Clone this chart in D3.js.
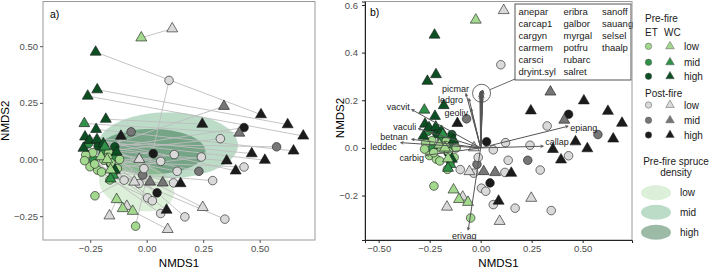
<!DOCTYPE html>
<html><head><meta charset="utf-8">
<script src="https://cdn.jsdelivr.net/npm/d3@7"></script>
<style>body{margin:0;background:#fff}svg{display:block;font-family:"Liberation Sans",Arial,Helvetica,sans-serif}</style>
</head><body><svg id="c" width="712" height="269"></svg>
<script>
// ---------------- data ----------------
const siteType = [
 "ET","ET","ET", "ET","ET","ET","ET",
 "ET","ET","ET","ET","ET","ET","ET","ET","ET","ET","ET","ET","ET","ET","ET","ET","ET",
 "WC","WC","WC","WC","WC","WC","WC","WC","WC","WC","WC","WC",
 "WC","WC","WC","WC",
 "WC","WC","WC","WC","WC","WC","WC"];
const siteDensity = [
 "high","high","high", "mid","mid","mid","mid",
 "low","low","low","low","low","low","low","low","low","low","low","low","low","low","low","low","low",
 "high","high","high","high","high","high","high","high","high","high","high","high",
 "mid","mid","mid","mid",
 "low","low","low","low","low","low","low"];
const preNMDS1 = [
 -0.141,-0.215,-0.160,
 -0.258,-0.190,-0.235,-0.150,
 -0.049,-0.229,-0.239,-0.251,-0.217,-0.168,-0.172,-0.190,-0.158,-0.130,-0.148,-0.163,-0.270,-0.200,-0.120,-0.230,-0.275,
 -0.226,-0.219,-0.261,-0.181,-0.224,-0.273,-0.253,-0.220,-0.280,-0.192,-0.133,-0.141,
 -0.276,-0.185,-0.148,-0.160,
 -0.024,-0.133,-0.106,-0.062,-0.202,-0.175,-0.160];
const preNMDS2 = [
 0.056,0.060,-0.020,
 0.070,0.035,0.000,0.010,
 -0.294,-0.160,0.030,-0.032,-0.047,0.030,0.010,-0.003,-0.016,-0.040,-0.058,-0.090,0.020,-0.055,0.000,-0.020,-0.005,
 0.474,0.308,0.280,0.178,0.133,0.100,0.085,0.088,0.050,0.070,0.033,-0.047,
 0.159,0.056,-0.069,-0.085,
 0.537,-0.176,-0.216,-0.228,0.013,0.000,-0.045];
const postNMDS1 = [
 0.431,0.029,0.046,
 0.575,0.231,-0.069,-0.018,
 0.099,-0.100,0.326,0.122,0.242,0.062,0.135,-0.012,-0.034,0.119,0.292,0.004,0.025,0.062,0.169,0.346,0.431,
 0.506,0.624,0.693,0.246,0.650,0.465,0.523,0.394,0.354,0.150,-0.114,0.088,
 0.410,0.342,0.015,0.071,
 0.113,-0.165,-0.088,0.093,0.248,-0.033,-0.055];
const postNMDS2 = [
 0.141,0.026,-0.147,
 0.056,-0.052,0.122,-0.069,
 0.349,-0.091,0.092,0.022,0.011,-0.008,-0.052,-0.040,-0.106,-0.103,-0.093,-0.169,-0.182,-0.238,-0.253,-0.263,-0.033,
 0.198,0.154,0.104,0.156,0.038,0.026,-0.003,-0.050,-0.006,-0.106,0.103,-0.223,
 0.117,0.235,-0.099,-0.103,
 0.577,-0.248,-0.206,-0.308,-0.211,0.001,-0.099];

// spruce density ellipses (panel a)
const ellipseDensity = ["mid","high","low"];
const ellipseNMDS1 = [0.094, 0.020, -0.045];
const ellipseNMDS2 = [0.063, 0.035, -0.118];
const ellipseAxis1 = [0.31, 0.24, 0.17];
const ellipseAxis2 = [0.145, 0.10, 0.105];
const ellipseAngle = [0, 0, -15];

// species vectors (panel b)
const speciesCode = ["picmar","ledgro","geoliv","vacvit","vaculi","betnan","leddec","carbig","epiang","callap","erivag",
 "anepar","carcap1","cargyn","carmem","carsci","dryint.syl","eribra","galbor","myrgal","potfru","rubarc","salret","sanoff","sauang","selsel","thaalp"];
const speciesNMDS1 = [-0.072,-0.057,-0.047,-0.338,-0.306,-0.338,-0.392,-0.268,0.429,0.307,-0.061,
 -0.004,-0.001,0.002,0.005,0.008,0.011,0.000,0.003,0.006,0.009,0.012,-0.002,0.004,0.007,0.010,0.001];
const speciesNMDS2 = [0.228,0.207,0.165,0.161,0.081,0.036,0.022,-0.031,0.091,0.007,-0.345,
 0.225,0.235,0.215,0.240,0.230,0.220,0.238,0.228,0.212,0.242,0.236,0.218,0.233,0.226,0.241,0.231];
const boxedSpecies = ["anepar","carcap1","cargyn","carmem","carsci","dryint.syl","eribra","galbor","myrgal","potfru","rubarc","salret","sanoff","sauang","selsel","thaalp"];

const xTicksA = [-0.25, 0, 0.25, 0.5];
const yTicksA = [-0.25, 0, 0.25, 0.5];
const xTicksB = [-0.5, -0.25, 0, 0.25, 0.5];
const yTicksB = [-0.2, 0, 0.2, 0.4, 0.6];
const densityLevels = ["low","mid","high"];

// ---------------- styles ----------------
const preFill = {low:"#a3d98f", mid:"#2e9147", high:"#0c4f23"};
const postFill = {low:"#d9d9d9", mid:"#767676", high:"#1b1b1b"};
const ellFill = {low:"#a8d7a0", mid:"#58a876", high:"#0a5222"};
const ellOpacity = 0.4;

const svg = d3.select("#c");
const sites = preNMDS1.map((d,i)=>({type:siteType[i], dens:siteDensity[i],
  px:preNMDS1[i], py:preNMDS2[i], qx:postNMDS1[i], qy:postNMDS2[i]}));

function triPath(cx, cy, a){
  const h = a*Math.sqrt(3)/2;
  return `M${cx},${cy-2*h/3}L${cx+a/2},${cy+h/3}L${cx-a/2},${cy+h/3}Z`;
}
function drawPoint(g, x, y, type, fill, r){
  if(type==="ET"){
    g.append("circle").attr("cx",x).attr("cy",y).attr("r",r).attr("fill",fill)
     .attr("stroke","#1a1a1a").attr("stroke-width",0.6);
  } else {
    g.append("path").attr("d",triPath(x,y,r*2.55)).attr("fill",fill)
     .attr("stroke","#1a1a1a").attr("stroke-width",0.6);
  }
}
function styleAxis(g, col){
  g.selectAll("text").attr("fill","#4d4d4d").style("font-size","9.5px").style("font-family","Liberation Sans, Arial, sans-serif");
  g.selectAll("line").attr("stroke",col);
}

// ---------------- panel a ----------------
const A = {l:43, r:315, t:1.5, b:240};
const xA = d3.scaleLinear().domain([-0.459,0.745]).range([A.l,A.r]);
const yA = d3.scaleLinear().domain([-0.355,0.697]).range([A.b,A.t]);
const gA = svg.append("g");
gA.append("clipPath").attr("id","clipA").append("rect").attr("x",A.l).attr("y",A.t).attr("width",A.r-A.l).attr("height",A.b-A.t);
const plotA = gA.append("g").attr("clip-path","url(#clipA)");

ellipseDensity.forEach((d,i)=>{
  const pts = d3.range(0,361,4).map(deg=>{
    const t = deg*Math.PI/180, ang = ellipseAngle[i]*Math.PI/180;
    const ex = ellipseAxis1[i]*Math.cos(t), ey = ellipseAxis2[i]*Math.sin(t);
    return [xA(ellipseNMDS1[i] + ex*Math.cos(ang) - ey*Math.sin(ang)),
            yA(ellipseNMDS2[i] + ex*Math.sin(ang) + ey*Math.cos(ang))];
  });
  plotA.append("path").attr("d", d3.line().curve(d3.curveLinearClosed)(pts))
    .attr("fill", ellFill[d]).attr("fill-opacity", ellOpacity);
});
sites.forEach(s=>{
  plotA.append("line").attr("x1",xA(s.px)).attr("y1",yA(s.py)).attr("x2",xA(s.qx)).attr("y2",yA(s.qy))
    .attr("stroke","#bdbdbd").attr("stroke-width",0.9);
});
sites.forEach(s=>drawPoint(plotA, xA(s.qx), yA(s.qy), s.type, postFill[s.dens], 4.3));
sites.forEach(s=>drawPoint(plotA, xA(s.px), yA(s.py), s.type, preFill[s.dens], 4.3));

gA.append("rect").attr("x",A.l).attr("y",A.t).attr("width",A.r-A.l).attr("height",A.b-A.t)
  .attr("fill","none").attr("stroke","#9a9a9a").attr("stroke-width",1);
const axA = gA.append("g").attr("transform",`translate(0,${A.b})`)
  .call(d3.axisBottom(xA).tickValues(xTicksA).tickFormat(d3.format(".2f")).tickSize(3).tickPadding(2));
axA.select(".domain").remove(); styleAxis(axA,"#555");
const ayA = gA.append("g").attr("transform",`translate(${A.l},0)`)
  .call(d3.axisLeft(yA).tickValues(yTicksA).tickFormat(d3.format(".2f")).tickSize(3).tickPadding(2));
ayA.select(".domain").remove(); styleAxis(ayA,"#555");
gA.append("text").attr("x",(A.l+A.r)/2).attr("y",267).attr("text-anchor","middle").style("font-size","11.5px").text("NMDS1");
gA.append("text").attr("transform",`translate(9,${(A.t+A.b)/2}) rotate(-90)`).attr("text-anchor","middle").style("font-size","11.5px").text("NMDS2");
gA.append("text").attr("x",50).attr("y",18).style("font-size","10.5px").text("a)");

// ---------------- panel b ----------------
const B = {l:365, r:632, t:1.5, b:240};
const xB = d3.scaleLinear().domain([-0.567,0.742]).range([B.l,B.r]);
const yB = d3.scaleLinear().domain([-0.3866,0.6145]).range([B.b,B.t]);
const gB = svg.append("g");
gB.append("clipPath").attr("id","clipB").append("rect").attr("x",B.l).attr("y",B.t).attr("width",B.r-B.l).attr("height",B.b-B.t);
const plotB = gB.append("g").attr("clip-path","url(#clipB)");
sites.forEach(s=>drawPoint(plotB, xB(s.qx), yB(s.qy), s.type, postFill[s.dens], 4.3));
sites.forEach(s=>drawPoint(plotB, xB(s.px), yB(s.py), s.type, preFill[s.dens], 4.3));

const ox = xB(0), oy = yB(0);
const arrowCol = "#555";
speciesCode.forEach((sp,i)=>{
  const tx = xB(speciesNMDS1[i]), ty = yB(speciesNMDS2[i]);
  plotB.append("line").attr("x1",ox).attr("y1",oy).attr("x2",tx).attr("y2",ty)
    .attr("stroke",arrowCol).attr("stroke-width",boxedSpecies.includes(sp)?0.8:1);
  const ang = Math.atan2(ty-oy, tx-ox), L = 3, w = 0.45;
  plotB.append("path").attr("d",`M${tx-L*Math.cos(ang-w)},${ty-L*Math.sin(ang-w)}L${tx},${ty}L${tx-L*Math.cos(ang+w)},${ty-L*Math.sin(ang+w)}`)
    .attr("fill","none").attr("stroke",arrowCol).attr("stroke-width",0.9);
});
// labels for unboxed species
const labelLayout = {
  picmar:{a:"end",dx:3,dy:-1.5}, ledgro:{a:"end",dx:-6,dy:4.5}, geoliv:{a:"end",dx:-3,dy:7.5},
  vacvit:{a:"end",dx:-2,dy:0.5}, vaculi:{a:"end",dx:-2,dy:1.7}, betnan:{a:"end",dx:-4,dy:1},
  leddec:{a:"end",dx:-4,dy:7.8}, carbig:{a:"end",dx:-2,dy:5.5}, epiang:{a:"start",dx:2,dy:4.5},
  callap:{a:"start",dx:2,dy:-1}, erivag:{a:"middle",dx:-4,dy:9}
};
speciesCode.forEach((sp,i)=>{
  const lay = labelLayout[sp]; if(!lay) return;
  gB.append("text").attr("x",xB(speciesNMDS1[i])+lay.dx).attr("y",yB(speciesNMDS2[i])+lay.dy)
    .attr("text-anchor",lay.a).style("font-size","9px").attr("fill","#1a1a1a").text(sp);
});
// circle around clustered vectors and box
const boxedIdx = boxedSpecies.map(s=>speciesCode.indexOf(s));
const ccx = d3.mean(boxedIdx, i=>xB(speciesNMDS1[i])), ccy = d3.mean(boxedIdx, i=>yB(speciesNMDS2[i]));
const cr = 9;
gB.append("circle").attr("cx",ccx).attr("cy",ccy).attr("r",cr).attr("fill","none").attr("stroke","#444").attr("stroke-width",0.8);
const box = {x:515, y:4, w:116, h:76};
const bx = box.x, by = box.y+box.h-1;
const dd = Math.hypot(bx-ccx, by-ccy);
gB.append("line").attr("x1",ccx+cr*(bx-ccx)/dd).attr("y1",ccy+cr*(by-ccy)/dd).attr("x2",bx).attr("y2",by)
  .attr("stroke","#444").attr("stroke-width",0.8);
gB.append("rect").attr("x",box.x).attr("y",box.y).attr("width",box.w).attr("height",box.h)
  .attr("fill","#fff").attr("stroke","#444").attr("stroke-width",0.9);
const colX = [518.5, 563.5, 602];
boxedSpecies.forEach((sp,i)=>{
  const c = Math.floor(i/6), r = i%6;
  gB.append("text").attr("x",colX[c]).attr("y",15+r*11.9).style("font-size","9.5px").attr("fill","#1a1a1a").text(sp);
});

gB.append("rect").attr("x",B.l).attr("y",B.t).attr("width",B.r-B.l).attr("height",B.b-B.t)
  .attr("fill","none").attr("stroke","#9a9a9a").attr("stroke-width",1);
const axB = gB.append("g").attr("transform",`translate(0,${B.b})`)
  .call(d3.axisBottom(xB).tickValues(xTicksB).tickFormat(d3.format(".2f")).tickSize(3).tickPadding(2));
axB.select(".domain").attr("stroke","#222"); styleAxis(axB,"#222");
const ayB = gB.append("g").attr("transform",`translate(${B.l},0)`)
  .call(d3.axisLeft(yB).tickValues(yTicksB).tickFormat(d3.format(".1f")).tickSize(3).tickPadding(4));
ayB.select(".domain").attr("stroke","#222"); styleAxis(ayB,"#222");
gB.append("text").attr("x",(B.l+B.r)/2).attr("y",267).attr("text-anchor","middle").style("font-size","11.5px").text("NMDS1");
gB.append("text").attr("transform",`translate(344,118) rotate(-90)`).attr("text-anchor","middle").style("font-size","11.5px").text("NMDS2");
gB.append("text").attr("x",370).attr("y",16).style("font-size","10.5px").text("b)");

// ---------------- legend ----------------
const gL = svg.append("g").style("font-size","10px").attr("fill","#1a1a1a");
gL.append("text").attr("x",645).attr("y",22).text("Pre-fire");
gL.append("text").attr("x",645).attr("y",36).text("ET");
gL.append("text").attr("x",664).attr("y",36).text("WC");
const preRows = [46.3, 62.3, 76.3], postRows = [105, 120.3, 135];
function legSym(y, fill){
  gL.append("circle").attr("cx",648.5).attr("cy",y).attr("r",3.2).attr("fill",fill).attr("stroke","#555").attr("stroke-width",0.5);
  gL.append("path").attr("d",triPath(670,y,8.5)).attr("fill",fill).attr("stroke","#555").attr("stroke-width",0.5);
}
densityLevels.forEach((d,i)=>{
  legSym(preRows[i], preFill[d]);
  gL.append("text").attr("x",684).attr("y",preRows[i]+3.6).text(d);
});
gL.append("text").attr("x",645).attr("y",96.5).text("Post-fire");
densityLevels.forEach((d,i)=>{
  legSym(postRows[i], postFill[d]);
  gL.append("text").attr("x",684).attr("y",postRows[i]+3.6).text(d);
});
gL.append("text").attr("x",676).attr("y",164.5).attr("text-anchor","middle").text("Pre-fire spruce");
gL.append("text").attr("x",676).attr("y",176).attr("text-anchor","middle").text("density");
const ellRows = [192.7, 212.3, 232.3];
densityLevels.forEach((d,i)=>{
  gL.append("ellipse").attr("cx",656).attr("cy",ellRows[i]).attr("rx",15).attr("ry",7.5)
    .attr("fill",ellFill[d]).attr("fill-opacity",ellOpacity);
  gL.append("text").attr("x",680).attr("y",ellRows[i]+3.6).text(d);
});
</script></body></html>
